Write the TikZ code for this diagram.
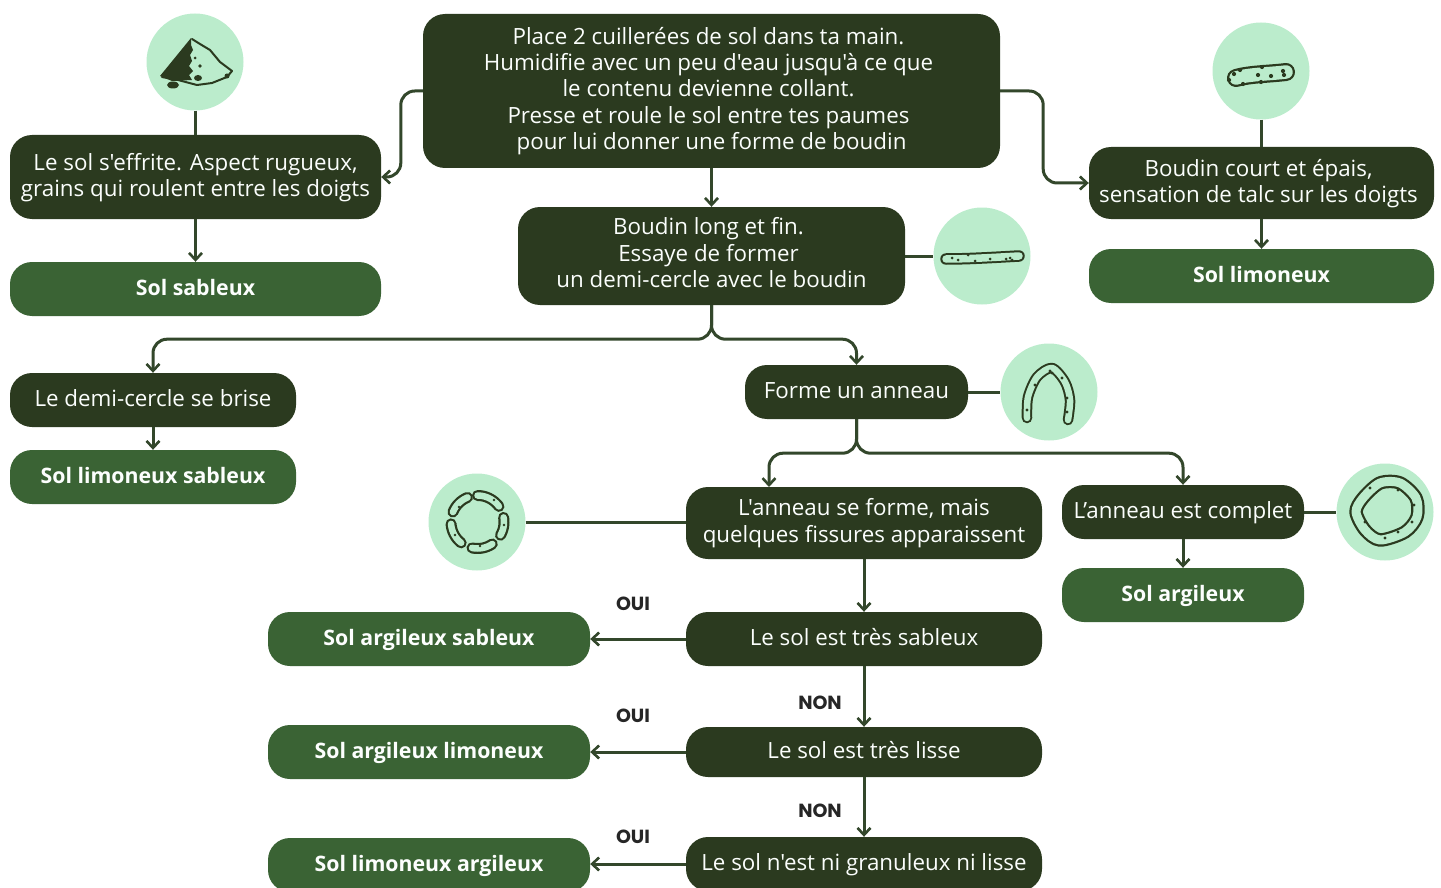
\documentclass[tikz,border=0pt]{standalone}
\usepackage{fontspec}
\setmainfont{Open Sans}[Ligatures=TeXOff]
\newfontfamily\labfont{Poppins}[Ligatures=TeXOff]
\usetikzlibrary{arrows.meta,calc}
\definecolor{darkbox}{HTML}{2B3A1F}
\definecolor{midbox}{HTML}{3A6334}
\definecolor{mint}{HTML}{BBECCC}
\definecolor{linec}{HTML}{33472B}
\newcommand{\boxat}[6]{%
  \node[#1,minimum width=#5-#3,minimum height=#6-#4] (#2) at ({(#3+#5)/2},{(#4+#6)/2})}
\newcommand{\sausagepath}[3]{%
  \draw[line cap=round,line join=round,draw=darkbox,line width=#1pt] #3;
  \draw[line cap=round,line join=round,draw=mint,line width=#2pt] #3;}
\newcommand{\lnudge}{\hspace*{-6pt}}
\tikzset{
 x=1pt,y=-1pt,
 q/.style={draw=none,fill=darkbox,text=white!94!mint,rounded corners=22pt,align=center,inner sep=0pt,font=\fontsize{22.35}{26.4}\selectfont},
 res/.style={draw=none,fill=midbox,text=white!96!mint,rounded corners=22pt,align=center,inner sep=0pt,font=\fontsize{21.3}{26.4}\selectfont\bfseries},
 one/.style={text height=17pt,text depth=5pt},
 disc/.style={circle,fill=mint,draw=none,minimum size=97pt,inner sep=0pt},
 conn/.style={draw=linec,line width=3pt,rounded corners=14pt,-{Straight Barb[length=7pt,width=13pt,line width=2.6pt]}},
 tie/.style={draw=linec,line width=3pt},
 lab/.style={text=black!85,font=\labfont\fontsize{19}{20}\selectfont\bfseries,inner sep=0pt},
 ink/.style={draw=darkbox,line width=2pt,line join=round,line cap=round},
}
\begin{document}
\begin{tikzpicture}
\useasboundingbox (0,0) rectangle (1441,888);
\clip (0,0) rectangle (1441,888);
% discs
\node[disc] (d1) at (195,62) {};
\node[disc] (d2) at (1261,71) {};
\node[disc] (d3) at (982,256) {};
\node[disc] (d4) at (1049,392) {};
\node[disc] (d5) at (477,522) {};
\node[disc] (d6) at (1385,512) {};
% boxes
\boxat{q}{top}{423}{14}{1000}{168} {\lnudge Place 2 cuillerées de sol dans ta main.\\\lnudge Humidifie avec un peu d'eau jusqu'à ce que\\\lnudge le contenu devienne collant.\\\lnudge Presse et roule le sol entre tes paumes\\pour lui donner une forme de boudin};
\boxat{q,text depth=4pt}{eff}{10}{135}{381}{219} {Le sol s'effrite. Aspect rugueux,\\grains qui roulent entre les doigts};
\boxat{res,one}{sab}{10}{262}{381}{316} {Sol sableux};
\boxat{q,text depth=7pt}{long}{518}{207}{905}{305} {\lnudge Boudin long et fin.\\\lnudge Essaye de former\\un demi-cercle avec le boudin};
\boxat{q,text depth=4pt}{court}{1089}{147}{1434}{219} {\lnudge Boudin court et épais,\\\lnudge sensation de talc sur les doigts};
\boxat{res,one}{lim}{1089}{249}{1434}{303} {Sol limoneux};
\boxat{q,one}{brise}{10}{373}{296}{427} {Le demi-cercle se brise};
\boxat{res,one}{limsab}{10}{450}{296}{504} {Sol limoneux sableux};
\boxat{q,one}{ann}{745}{365}{968}{419} {Forme un anneau};
\boxat{q}{fis}{686}{487}{1042}{559} {L'anneau se forme, mais\\quelques fissures apparaissent};
\boxat{q,one}{comp}{1062}{485}{1304}{539} {L’anneau est complet};
\boxat{res,one}{arg}{1062}{568}{1304}{622} {Sol argileux};
\boxat{q,one}{tsab}{686}{612}{1042}{666} {Le sol est très sableux};
\boxat{q,one}{tlis}{686}{727}{1042}{777} {Le sol est très lisse};
\boxat{q,one}{ni}{686}{837}{1042}{891} {Le sol n'est ni granuleux ni lisse};
\boxat{res,one}{asab}{268}{612}{590}{666} {Sol argileux sableux};
\boxat{res,one}{alim}{268}{725}{590}{779} {Sol argileux limoneux};
\boxat{res,one}{larg}{268}{838}{590}{892} {Sol limoneux argileux};
\coordinate (fisin) at (769,487);
% ties to discs
\draw[tie] (d1.south) -- (d1.south |- eff.north);
\draw[tie] (d2.south) -- (d2.south |- court.north);
\draw[tie] (long.east) -- (d3.west);
\draw[tie] (ann.east) -- (d4.west);
\draw[tie] (d5.east) -- (d5.east -| fis.west);
\draw[tie] (comp.east) -- (d6.west);
% connectors
\draw[conn] (top.west) -- ++(-22,0) |- (eff.east);
\draw[conn] (top.east) -- ++(43,0) |- (court.west);
\draw[conn] (top.south -| long.north) -- (long.north);
\draw[conn] (eff.south) -- (sab.north);
\draw[conn] (court.south) -- (lim.north);
\draw[conn] (brise.south) -- (limsab.north);
\draw[conn] (long.south) -- ++(0,34) -| (brise.north);
\draw[conn] (long.south) -- ++(0,34) -| (ann.north);
\draw[conn] (ann.south) -- ++(0,34) -| (fisin);
\draw[conn] (ann.south) -- ++(0,34) -| (comp.north);
\draw[conn] (comp.south) -- (arg.north);
\draw[conn] (fis.south) -- (tsab.north);
\draw[conn] (tsab.south) -- (tlis.north);
\draw[conn] (tlis.south) -- (ni.north);
\draw[conn] (tsab.west) -- (asab.east);
\draw[conn] (tlis.west) -- (tlis.west -| alim.east);
\draw[conn] (ni.west) -- (ni.west -| larg.east);
% labels
\node[lab] (o1) at (633,604) {OUI};
\node[lab] (o2) at (633,716) {OUI};
\node[lab] (o3) at (633,837) {OUI};
\node[lab] (n1) at (820,703) {NON};
\node[lab] (n2) at (820,811) {NON};
% sand pile icon
\fill[darkbox] (191,38) -- (160,76) -- (172,81) -- (192,80) -- (189,75) -- (193,71) -- (189,66) -- (192,61) -- (190,55) -- (193,50) -- (191,45) -- cycle;
\draw[ink] (192,39) -- (200,44) -- (210,50) -- (220,62) -- (232,71) -- (227,77) -- (212,83) -- (197,85) -- (178,80) -- (162,77);
\fill[darkbox] (173,85) ellipse (6 and 3.5);
\fill[darkbox] (198,78) ellipse (4 and 3);
\fill[darkbox] (200,66) circle (1.8);
\fill[darkbox] (195,58) circle (1.5);
\fill[darkbox] (227,76) circle (2.5);
% short sausage icon
\sausagepath{18}{13.5}{(1236,78) .. controls (1250,74) and (1270,74) .. (1286,72)}
\foreach \x/\y in {1234/74,1240/70,1243/84,1258/75,1262/67,1271/76,1283/71,1284/75,1261/82,1229/80}{\fill[darkbox] (\x,\y) circle (2.1);}
% long sausage icon
\sausagepath{11.5}{7.5}{(946,259) .. controls (970,259) and (1000,257) .. (1019,256)}
\foreach \x/\y in {952/258,968/255,975/261,990/259,1006/259,1010/258,1012/260,958/260}{\fill[darkbox] (\x,\y) circle (1.5);}
% arch icon
\sausagepath{10.5}{6.5}{plot[smooth] coordinates {(1027,418) (1028,397) (1037,377) (1052,368) (1065,382) (1070,400) (1068,420)}}
\foreach \x/\y in {1035/385,1050/371,1062/378,1067/398,1027/410,1067/412,1052/373}{\fill[darkbox] (\x,\y) circle (1.6);}
% broken ring icon
\foreach \s/\e in {36/90,-30/10,-102/-56,-176/-128,112/158}{
 \sausagepath{11}{6.5}{plot[smooth,domain=\s:\e,samples=12] ({477.5+26.5*cos(\x)},{522-26.5*sin(\x)})}
}
\foreach \x/\y in {459/507,494/500,504/525,480/546,455/535}{\fill[darkbox] (\x,\y) circle (1.4);}
% complete ring icon
\sausagepath{13.5}{9}{plot[smooth cycle] coordinates {(1363,498) (1380,483) (1400,483) (1416,498) (1417,517) (1405,532) (1380,540) (1365,530) (1356,512)}}
\foreach \x/\y in {1370/488,1398/490,1414/505,1412/522,1385/538,1365/522,1398/532}{\fill[darkbox] (\x,\y) circle (1.6);}
\end{tikzpicture}
\end{document}
